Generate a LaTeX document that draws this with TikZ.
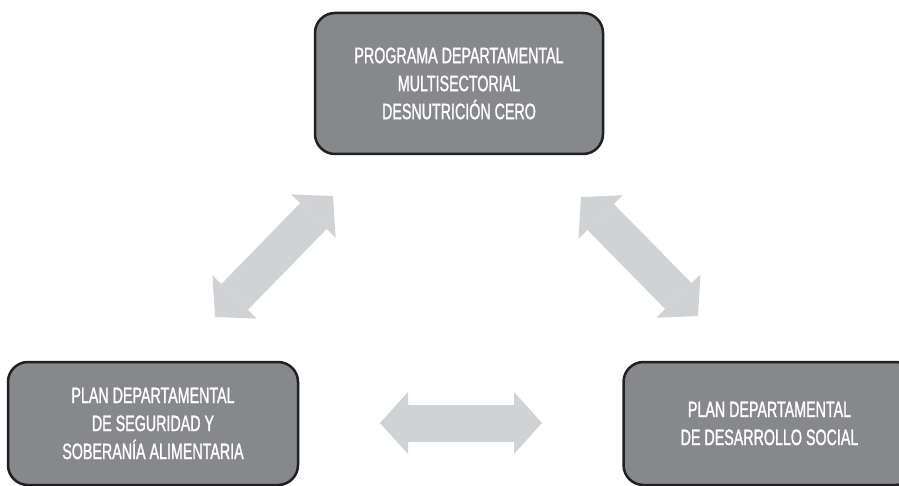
\documentclass[tikz,border=0pt]{standalone}
\usepackage{fontspec}
\setmainfont{Liberation Sans}[FakeStretch=0.64, FakeBold=1.2]
\usepackage{tikz}
\usetikzlibrary{arrows.meta, positioning}
\definecolor{boxgray}{RGB}{135,136,140}
\definecolor{arrowgray}{RGB}{209,210,212}
\definecolor{edgeblack}{RGB}{35,31,32}
\tikzstyle{plan_box} = [rectangle, rounded corners=20pt, line width=2.5pt, draw=edgeblack, fill=boxgray, text=white, align=center, font=\fontsize{22.3}{28}\selectfont]
\tikzstyle{link_arrow} = [line width=37pt, draw=arrowgray, {Triangle[length=28pt, width=62pt, line width=0pt]}-{Triangle[length=28pt, width=62pt, line width=0pt]}]

\begin{document}
\begin{tikzpicture}[x=1pt, y=-1pt]
\useasboundingbox (0,0) rectangle (899,486);
\clip (0,0) rectangle (899,486);
\node (programa) [plan_box, minimum width=288pt, minimum height=141pt] at (459,83.5) {PROGRAMA DEPARTAMENTAL\\MULTISECTORIAL\\DESNUTRICIÓN CERO};
\node (seguridad) [plan_box, minimum width=290pt, minimum height=123pt] at (153,423.5) {PLAN DEPARTAMENTAL\\DE SEGURIDAD Y\\SOBERANÍA ALIMENTARIA};
\node (desarrollo) [plan_box, minimum width=292pt, minimum height=123pt, right=323pt of seguridad] {PLAN DEPARTAMENTAL\\DE DESARROLLO SOCIAL};

% flechas dobles entre los planes
\coordinate (izq_bajo) at (215,317);
\coordinate (izq_alto) at (333,196);
\coordinate (der_alto) at (581,197);
\coordinate (der_bajo) at (698,316);
\coordinate (centro_izq) at (380,423);
\coordinate (centro_der) at (542,423);
\draw [link_arrow] (izq_bajo) -- (izq_alto);
\draw [link_arrow] (der_alto) -- (der_bajo);
\draw [link_arrow] (centro_izq) -- (centro_der);
\end{tikzpicture}
\end{document}
